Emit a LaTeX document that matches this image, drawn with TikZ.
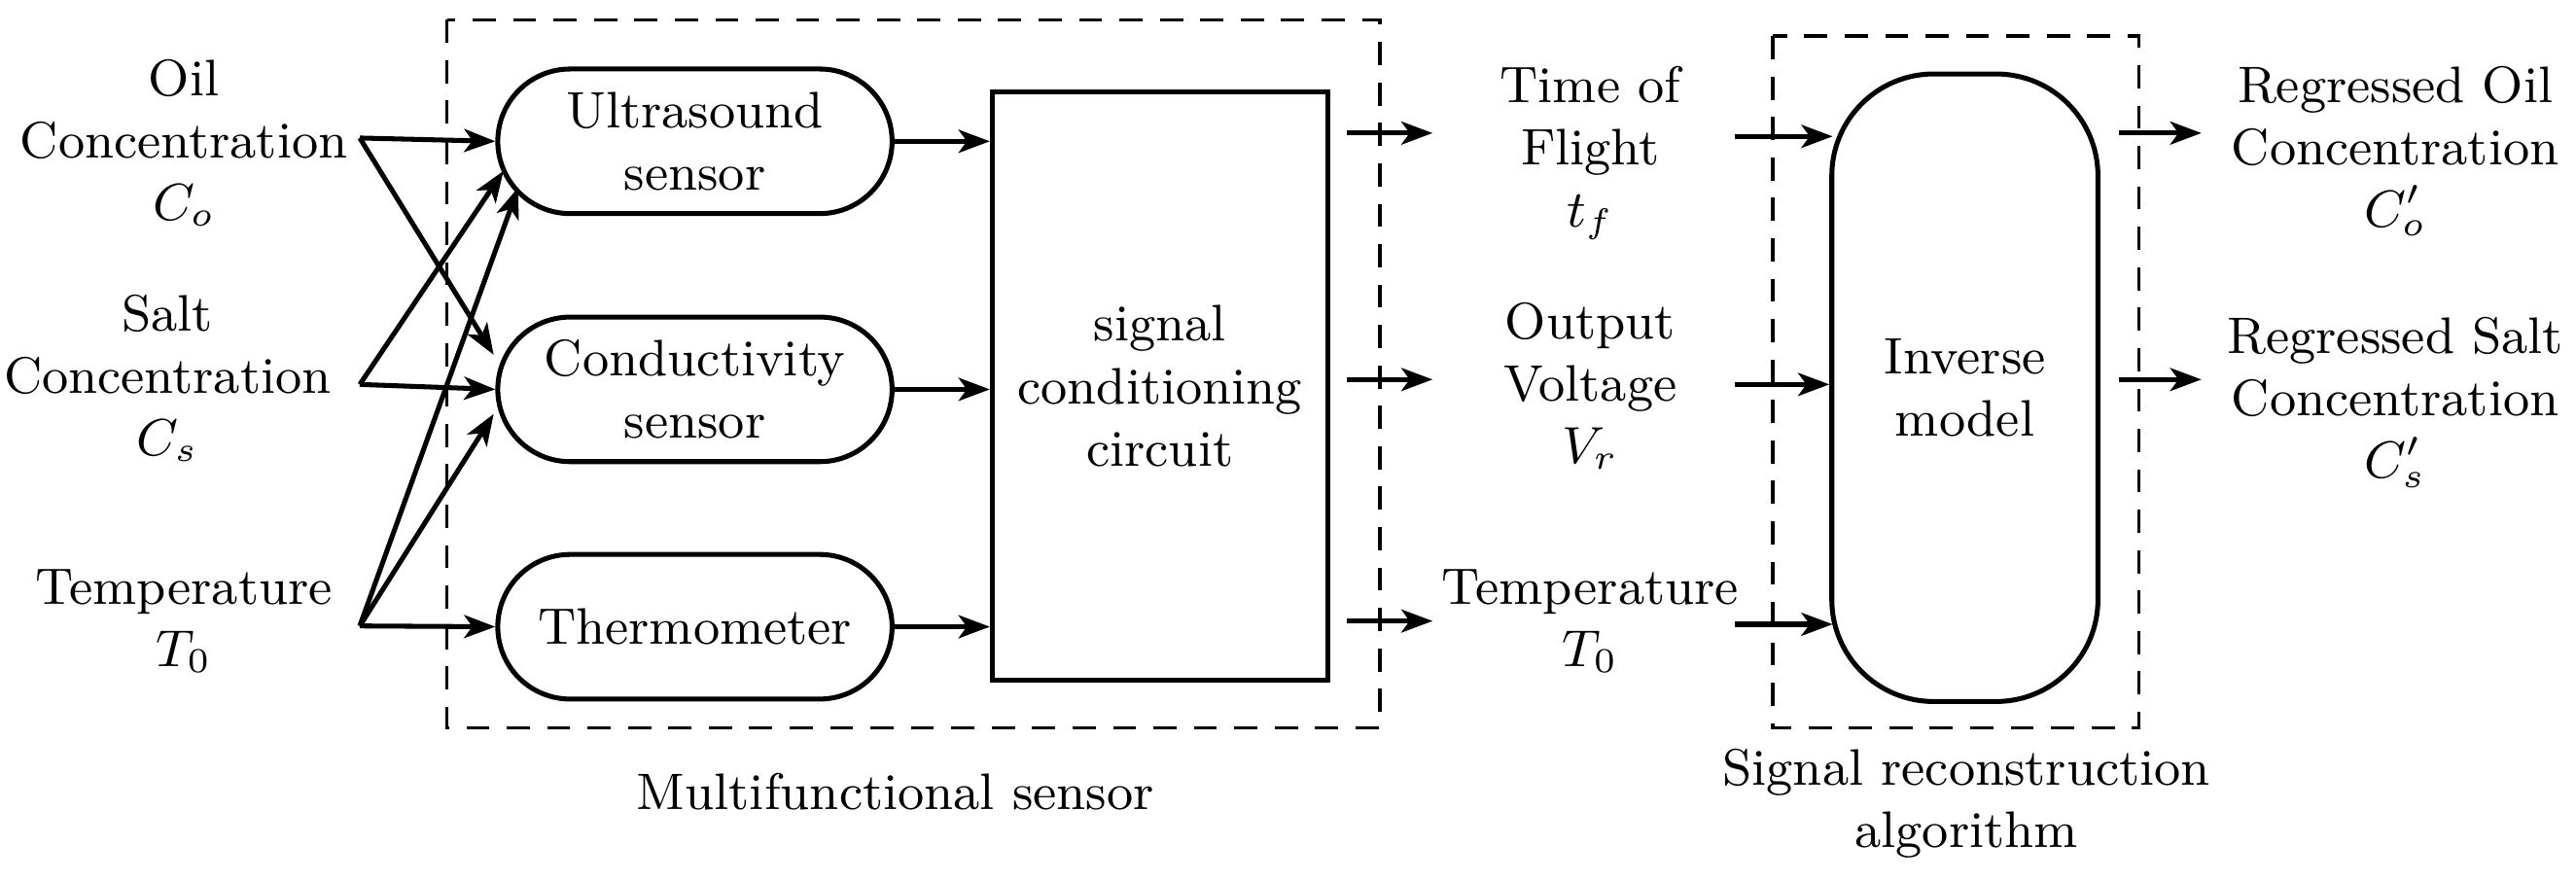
\documentclass[tikz,border=0pt]{standalone}
\usetikzlibrary{arrows.meta,positioning}
\tikzset{
	arr/.style={line width=0.85pt,-{Stealth[length=1.9mm,width=1.4mm,inset=0.5mm]}},
	capsule/.style={draw,line width=0.85pt,rounded corners=0.44cm,minimum width=2.4cm,minimum height=0.88cm,align=center,inner sep=0pt},
	lbl/.style={align=center,inner sep=0pt},
	dbox/.style={draw,dashed,line width=0.6pt,dash pattern=on 4pt off 3pt},
}
\begin{document}
\begin{tikzpicture}[font=\fontsize{8.9}{10.8}\selectfont]
	\useasboundingbox (0,0) rectangle (15.68,-5.36);

	% inputs
	\node [lbl] (oil) at (1.12,-0.87) {Oil\\Concentration\\$C_o$};
	\node [lbl] (salt) at (1.02,-2.30) {Salt\\Concentration\\$C_s$};
	\node [lbl] (temp) at (1.12,-3.78) {Temperature\\$T_0$};
	\coordinate (joil) at (2.19,-0.84);
	\coordinate (jsalt) at (2.19,-2.34);
	\coordinate (jtemp) at (2.19,-3.81);

	% multifunctional sensor
	\draw [dbox] (2.72,-0.12) rectangle (8.40,-4.43);
	\node [] (mfs) at (5.45,-4.82) {Multifunctional sensor};
	\node [capsule] (us) at (4.23,-0.86) {Ultrasound\\sensor};
	\node [capsule] (cs) at (4.23,-2.37) {Conductivity\\sensor};
	\node [capsule] (th) at (4.23,-3.815) {Thermometer};
	\node [draw,line width=0.85pt,minimum width=2.04cm,minimum height=3.58cm,align=center,inner sep=0pt] (scc) at (7.06,-2.35) {signal\\conditioning\\circuit};

	\draw [arr] (joil) -- (us.west);
	\draw [arr] (joil) -- ([shift={(-0.01,0.21)}]cs.west);
	\draw [arr] (jsalt) -- ([shift={(0.05,-0.18)}]us.west);
	\draw [arr] (jsalt) -- (cs.west);
	\draw [arr] (jtemp) -- ([shift={(0.14,-0.28)}]us.west);
	\draw [arr] (jtemp) -- ([shift={(-0.01,-0.15)}]cs.west);
	\draw [arr] (jtemp) -- (th.west);

	\draw [arr] (us.east) -- (us.east -| scc.west);
	\draw [arr] (cs.east) -- (cs.east -| scc.west);
	\draw [arr] (th.east) -- (th.east -| scc.west);

	% outputs of the sensor
	\coordinate (o1) at (8.20,-0.81);
	\coordinate (o2) at (8.20,-2.31);
	\coordinate (o3) at (8.20,-3.78);
	\draw [arr] (o1) -- ++(0.52,0);
	\draw [arr] (o2) -- ++(0.52,0);
	\draw [arr] (o3) -- ++(0.52,0);
	\node [lbl] (tof) at (9.68,-0.93) {Time of\\Flight\\$t_f$};
	\node [lbl] (volt) at (9.68,-2.35) {Output\\Voltage\\$V_r$};
	\node [lbl] (temp2) at (9.68,-3.78) {Temperature\\$T_0$};

	% signal reconstruction
	\draw [dbox] (10.79,-0.22) rectangle (13.02,-4.43);
	\node [lbl] (sra) at (11.97,-4.89) {Signal reconstruction\\algorithm};
	\node [draw,line width=0.85pt,rounded corners=0.62cm,minimum width=1.62cm,minimum height=3.82cm,align=center,inner sep=0pt] (inv) at (11.96,-2.36) {Inverse\\model};

	\coordinate (i1) at (10.56,-0.83);
	\coordinate (i2) at (10.56,-2.34);
	\coordinate (i3) at (10.56,-3.80);
	\draw [arr] (i1) -- ([xshift=0.02cm]i1 -| inv.west);
	\draw [arr] (i2) -- (i2 -| inv.west);
	\draw [arr] (i3) -- ([xshift=0.02cm]i3 -| inv.west);

	\coordinate (r1) at (12.90,-0.81);
	\coordinate (r2) at (12.90,-2.31);
	\draw [arr] (r1) -- ++(0.50,0);
	\draw [arr] (r2) -- ++(0.50,0);
	\node [lbl] (roil) at (14.58,-0.92) {Regressed Oil\\Concentration\\$C_o'$};
	\node [lbl] (rsalt) at (14.58,-2.45) {Regressed Salt\\Concentration\\$C_s'$};
\end{tikzpicture}
\end{document}
